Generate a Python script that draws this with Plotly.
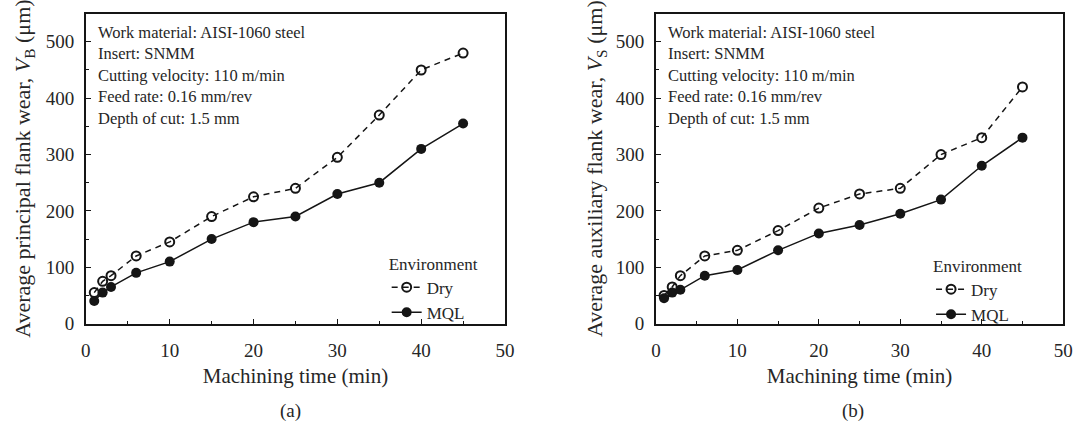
import plotly.graph_objects as go

# Machining times (min) at which flank wear was measured
time_min = [1, 2, 3, 6, 10, 15, 20, 25, 30, 35, 40, 45]

# (a) Average principal flank wear VB (um)
vb_dry = [55, 75, 85, 120, 145, 190, 225, 240, 295, 370, 450, 480]
vb_mql = [40, 55, 65, 90, 110, 150, 180, 190, 230, 250, 310, 355]

# (b) Average auxiliary flank wear VS (um)
vs_dry = [50, 65, 85, 120, 130, 165, 205, 230, 240, 300, 330, 420]
vs_mql = [45, 55, 60, 85, 95, 130, 160, 175, 195, 220, 280, 330]

series_names = ["Dry", "MQL"]
x_ticks = [0, 10, 20, 30, 40, 50]
y_ticks = [0, 100, 200, 300, 400, 500]

conditions = ("Work material: AISI-1060 steel<br>Insert: SNMM<br>"
              "Cutting velocity: 110 m/min<br>Feed rate: 0.16 mm/rev<br>"
              "Depth of cut: 1.5 mm")

FONT = "Liberation Serif"
INK = "#151515"
TEXT = "#262626"

fig = go.Figure()

panels = [
    ("x", "y", "legend", vb_dry, vb_mql),
    ("x2", "y2", "legend2", vs_dry, vs_mql),
]
for xa, ya, lg, dry, mql in panels:
    fig.add_trace(go.Scatter(
        x=time_min, y=dry, name=series_names[0], xaxis=xa, yaxis=ya, legend=lg,
        mode="lines+markers",
        line=dict(color=INK, width=1.5, dash="6px,5px"),
        marker=dict(symbol="circle-open", size=9, color=INK, line=dict(width=2)),
    ))
    fig.add_trace(go.Scatter(
        x=time_min, y=mql, name=series_names[1], xaxis=xa, yaxis=ya, legend=lg,
        mode="lines+markers",
        line=dict(color=INK, width=1.5),
        marker=dict(symbol="circle", size=10, color=INK),
    ))

W, H = 1088, 434
def fx(px):
    return px / W
def fy(py):
    return 1 - py / H

common_x = dict(
    range=[0, 50], tickvals=x_ticks, ticks="inside", ticklen=5, tickwidth=1.4,
    tickcolor=INK, showline=True, linecolor=INK, linewidth=1.8, mirror=True,
    showgrid=False, zeroline=False, ticklabelstandoff=9,
    minor=dict(tickvals=[5, 15, 25, 35, 45], ticks="inside", ticklen=3,
               tickwidth=1.3, tickcolor=INK),
    tickfont=dict(family=FONT, size=19, color=TEXT),
    title=dict(text="Machining time (min)", font=dict(family=FONT, size=21, color=TEXT),
               standoff=8),
)
common_y = dict(
    range=[0, 550], tickvals=y_ticks, ticks="inside", ticklen=5, tickwidth=1.4,
    tickcolor=INK, showline=True, linecolor=INK, linewidth=1.8, mirror=True,
    showgrid=False, zeroline=False, ticklabelstandoff=6,
    minor=dict(tickvals=[50, 150, 250, 350, 450], ticks="inside", ticklen=3,
               tickwidth=1.3, tickcolor=INK),
    tickfont=dict(family=FONT, size=19, color=TEXT),
)

fig.update_layout(
    width=W, height=H,
    margin=dict(l=0, r=0, t=0, b=0),
    paper_bgcolor="white", plot_bgcolor="white",
    font=dict(family=FONT, color=TEXT),
    xaxis=dict(common_x, domain=[fx(82), fx(507)], anchor="y"),
    yaxis=dict(common_y, domain=[fy(332), fy(14)], anchor="x",
               title=dict(text="Average principal flank wear, <i>V</i><sub>B</sub> (μm)",
                          font=dict(family=FONT, size=22, color=TEXT), standoff=9)),
    xaxis2=dict(common_x, domain=[fx(660), fx(1073)], anchor="y2"),
    yaxis2=dict(common_y, domain=[fy(332), fy(14)], anchor="x2",
                title=dict(text="Average auxiliary flank wear, <i>V</i><sub>S</sub> (μm)",
                           font=dict(family=FONT, size=22, color=TEXT), standoff=7)),
    legend=dict(x=fx(387), y=fy(254), xanchor="left", yanchor="top",
                bgcolor="rgba(0,0,0,0)", font=dict(family=FONT, size=17, color=TEXT),
                title=dict(text="Environment", font=dict(family=FONT, size=17, color=TEXT)),
                tracegroupgap=0, itemwidth=30),
    legend2=dict(x=fx(939), y=fy(256), xanchor="left", yanchor="top",
                 bgcolor="rgba(0,0,0,0)", font=dict(family=FONT, size=17, color=TEXT),
                 title=dict(text="Environment", font=dict(family=FONT, size=17, color=TEXT)),
                 tracegroupgap=0, itemwidth=30),
    showlegend=True,
)

for xd, yd, label, lx in [("x domain", "y domain", "(a)", 289), ("x2 domain", "y2 domain", "(b)", 860)]:
    fig.add_annotation(xref=xd, yref=yd, x=0, y=1, xanchor="left", yanchor="top",
                       xshift=10, yshift=-7, text=conditions, showarrow=False, align="left",
                       font=dict(family=FONT, size=16.5, color=TEXT))
    fig.add_annotation(xref="paper", yref="paper", x=fx(lx), y=fy(422), xanchor="center",
                       yanchor="middle", text=label, showarrow=False,
                       font=dict(family=FONT, size=19, color=TEXT))

fig.write_html("out.html")
